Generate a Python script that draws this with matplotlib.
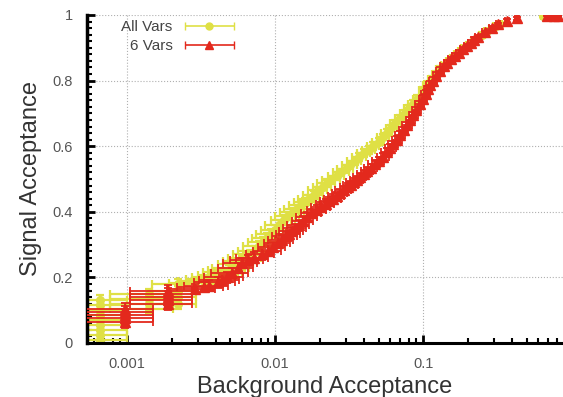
import matplotlib.pyplot as plt
from matplotlib.ticker import MultipleLocator, FixedLocator, LogLocator, NullFormatter
from matplotlib.legend_handler import HandlerErrorbar

plt.rcParams['font.family'] = ['Liberation Sans', 'DejaVu Sans']

# 6 Vars: background acceptance, signal acceptance, relative x error, y error
red_x = [0.00097, 0.00097, 0.00097, 0.00097, 0.00097,
         0.0019, 0.0019, 0.0019, 0.0019, 0.0019,
         0.0029, 0.0033, 0.0036, 0.0041, 0.0044, 0.0047, 0.0051, 0.0056, 0.006, 0.0066,
         0.0072, 0.0081, 0.009, 0.0097,
         0.0105, 0.0111, 0.0118, 0.0124, 0.013, 0.0137, 0.0145, 0.0155, 0.0165, 0.0178,
         0.0192, 0.0205, 0.022, 0.0232, 0.0245, 0.026, 0.0275, 0.029, 0.031, 0.0325,
         0.034, 0.0357, 0.0375, 0.0398, 0.042, 0.0445, 0.047, 0.050, 0.0537, 0.057,
         0.06, 0.063, 0.0667, 0.070, 0.074, 0.078, 0.082, 0.086, 0.09, 0.095,
         0.1, 0.104, 0.108, 0.112, 0.117, 0.123, 0.13,
         0.138, 0.145, 0.155, 0.165, 0.175, 0.185, 0.197, 0.21, 0.222, 0.235,
         0.26, 0.29, 0.32, 0.37, 0.43, 0.69, 0.76, 0.82]
red_y = [0.065, 0.075, 0.085, 0.095, 0.105,
         0.12, 0.13, 0.14, 0.15, 0.16,
         0.165, 0.17, 0.175, 0.185, 0.192, 0.20, 0.213, 0.228, 0.244, 0.252,
         0.26, 0.27, 0.282, 0.293,
         0.305, 0.315, 0.325, 0.332, 0.34, 0.35, 0.36, 0.372, 0.385, 0.396,
         0.406, 0.416, 0.425, 0.432, 0.44, 0.449, 0.457, 0.466, 0.475, 0.483,
         0.49, 0.498, 0.506, 0.516, 0.525, 0.535, 0.545, 0.556, 0.567, 0.581,
         0.595, 0.607, 0.62, 0.635, 0.65, 0.665, 0.68, 0.695, 0.71, 0.728,
         0.745, 0.76, 0.775, 0.788, 0.80, 0.815, 0.83,
         0.843, 0.855, 0.865, 0.875, 0.885, 0.895, 0.905, 0.915, 0.924, 0.932,
         0.947, 0.96, 0.972, 0.982, 0.99, 0.998, 0.998, 0.998]
red_xrel = [0.55, 0.55, 0.55, 0.55, 0.55,
            0.45, 0.45, 0.45, 0.45, 0.45,
            0.36, 0.34, 0.33, 0.31, 0.30, 0.29, 0.28, 0.27, 0.26, 0.25,
            0.24, 0.22, 0.21, 0.205,
            0.2, 0.195, 0.19, 0.185, 0.18, 0.175, 0.17, 0.165, 0.16, 0.155,
            0.15, 0.145, 0.14, 0.135, 0.13, 0.125, 0.12, 0.118, 0.115, 0.112,
            0.11, 0.108, 0.105, 0.102, 0.1, 0.098, 0.095, 0.092, 0.09, 0.088,
            0.085, 0.082, 0.08, 0.078, 0.075, 0.072, 0.07, 0.069, 0.068, 0.066,
            0.065, 0.064, 0.062, 0.061, 0.06, 0.058, 0.056,
            0.054, 0.053, 0.051, 0.05, 0.049, 0.047, 0.046, 0.044, 0.043, 0.042,
            0.04, 0.038, 0.036, 0.034, 0.031, 0.025, 0.024, 0.023]
red_yerr = [0.018] * 10 + [0.016] * 14 + [0.014] * 15 + [0.012] * 16 + [0.010] * 16 \
    + [0.008] * 10 + [0.005] * 5 + [0.002] * 3

# All Vars
yel_x = [0.00066, 0.00066, 0.00066, 0.00066, 0.00066, 0.00066, 0.00066, 0.00066, 0.00066,
         0.0014, 0.0014, 0.0014, 0.0014,
         0.0022, 0.0022, 0.0022, 0.0022,
         0.0029, 0.0033, 0.0037, 0.004, 0.0043, 0.0046, 0.0049, 0.0052, 0.0056, 0.006,
         0.0064, 0.0068, 0.0073, 0.0078, 0.0083, 0.0088, 0.0094, 0.01, 0.0107, 0.0115,
         0.0123, 0.0132, 0.014, 0.015, 0.016, 0.017, 0.0182, 0.0195, 0.021, 0.0224,
         0.024, 0.026, 0.028, 0.03, 0.032, 0.0345, 0.037, 0.04, 0.043, 0.046,
         0.05, 0.0537, 0.057, 0.061, 0.065, 0.07, 0.075, 0.08, 0.085, 0.091,
         0.1, 0.107, 0.115, 0.122, 0.13, 0.14, 0.15, 0.16, 0.17, 0.18,
         0.19, 0.205, 0.22, 0.235, 0.25, 0.27, 0.29, 0.31, 0.33, 0.64]
yel_y = [0.01, 0.025, 0.04, 0.055, 0.07, 0.085, 0.10, 0.115, 0.13,
         0.105, 0.12, 0.135, 0.15,
         0.12, 0.14, 0.16, 0.18,
         0.182, 0.19, 0.196, 0.2, 0.207, 0.215, 0.222, 0.23, 0.24, 0.25,
         0.26, 0.27, 0.282, 0.295, 0.307, 0.32, 0.332, 0.345, 0.36, 0.375,
         0.388, 0.40, 0.41, 0.42, 0.43, 0.44, 0.452, 0.465, 0.477, 0.488,
         0.498, 0.51, 0.52, 0.53, 0.542, 0.555, 0.566, 0.578, 0.589, 0.60,
         0.614, 0.628, 0.641, 0.655, 0.67, 0.685, 0.70, 0.715, 0.73, 0.745,
         0.77, 0.788, 0.805, 0.82, 0.835, 0.848, 0.86, 0.87, 0.88, 0.89,
         0.9, 0.91, 0.92, 0.93, 0.94, 0.95, 0.958, 0.965, 0.972, 0.998]
yel_xrel = [0.52] * 9 + [0.45] * 4 + [0.33] * 4 + [
    0.34, 0.33, 0.32, 0.31, 0.30, 0.29, 0.285, 0.28, 0.27, 0.26,
    0.25, 0.24, 0.235, 0.22, 0.215, 0.21, 0.205, 0.2, 0.195, 0.19,
    0.185, 0.18, 0.175, 0.17, 0.165, 0.16, 0.155, 0.15, 0.145, 0.14,
    0.135, 0.13, 0.125, 0.12, 0.117, 0.11, 0.105, 0.1, 0.098, 0.095,
    0.092, 0.09, 0.087, 0.085, 0.082, 0.08, 0.076, 0.072, 0.07, 0.068,
    0.065, 0.063, 0.06, 0.058, 0.056, 0.054, 0.052, 0.051, 0.05, 0.049,
    0.047, 0.045, 0.044, 0.043, 0.04, 0.039, 0.038, 0.037, 0.036, 0.026]
yel_yerr = [0.015] * 17 + [0.015] * 20 + [0.012] * 20 + [0.010] * 15 + [0.007] * 10 + [0.004] * 5

labels = ['All Vars', '6 Vars']
yel_c = '#dfe045'
red_c = '#e3291d'

fig = plt.figure(figsize=(5.63, 3.97), dpi=100)
ax = fig.add_axes([87/563, 54/397, 476/563, 328/397])

ax.errorbar(yel_x, yel_y, xerr=[x*r for x, r in zip(yel_x, yel_xrel)], yerr=yel_yerr,
            fmt='o', ms=5.5, color=yel_c, ecolor=yel_c, elinewidth=1.6, capsize=3, capthick=1.6, zorder=2)
ax.errorbar(red_x, red_y, xerr=[x*r for x, r in zip(red_x, red_xrel)], yerr=red_yerr,
            fmt='^', ms=7.5, color=red_c, ecolor=red_c, elinewidth=1.3, capsize=3, capthick=1.3, zorder=3)

# legend keys: horizontal bar with caps and a marker in the middle
nan = float('nan')
k_yel = ax.errorbar([nan], [nan], xerr=[1], fmt='o', ms=5, color=yel_c, elinewidth=1.2, capsize=3)
k_red = ax.errorbar([nan], [nan], xerr=[1], fmt='^', ms=6, color=red_c, elinewidth=1.2, capsize=3)

ax.set_xscale('log')
ax.set_xlim(0.000537, 0.88)
ax.set_ylim(0, 1)

ax.yaxis.set_major_locator(FixedLocator([0, 0.2, 0.4, 0.6, 0.8, 1]))
ax.yaxis.set_minor_locator(MultipleLocator(0.02))
ax.set_yticklabels(['0', '0.2', '0.4', '0.6', '0.8', '1'])
ax.xaxis.set_major_locator(FixedLocator([0.001, 0.01, 0.1, 1]))
ax.set_xticklabels(['0.001', '0.01', '0.1', '1'])
ax.xaxis.set_minor_locator(LogLocator(base=10, subs=range(2, 10)))
ax.xaxis.set_minor_formatter(NullFormatter())

ax.tick_params(which='major', direction='in', length=6, width=2, color='k', labelsize=10.5, labelcolor='#555555', pad=10)
ax.tick_params(which='minor', direction='in', length=3.5, width=1.5, color='k')
ax.grid(which='major', linestyle=':', color='#b0b0b0', linewidth=0.8)

for s in ['top', 'right']:
    ax.spines[s].set_visible(False)
ax.spines['left'].set_linewidth(2.5)
ax.spines['bottom'].set_linewidth(2.2)

ax.set_xlabel('Background Acceptance', fontsize=17, color='#333333', labelpad=4)
ax.set_ylabel('Signal Acceptance', fontsize=17, color='#333333', labelpad=8)

ax.legend([k_yel, k_red], labels, loc='upper left', bbox_to_anchor=(0.072, 0.985), frameon=False,
          markerfirst=False, fontsize=11, labelcolor='#444444', handlelength=3.2, handletextpad=0.8,
          borderpad=0, borderaxespad=0, labelspacing=0.35,
          handler_map={type(k_yel): HandlerErrorbar(xerr_size=1.6)})

plt.savefig('out.png', dpi=100)
